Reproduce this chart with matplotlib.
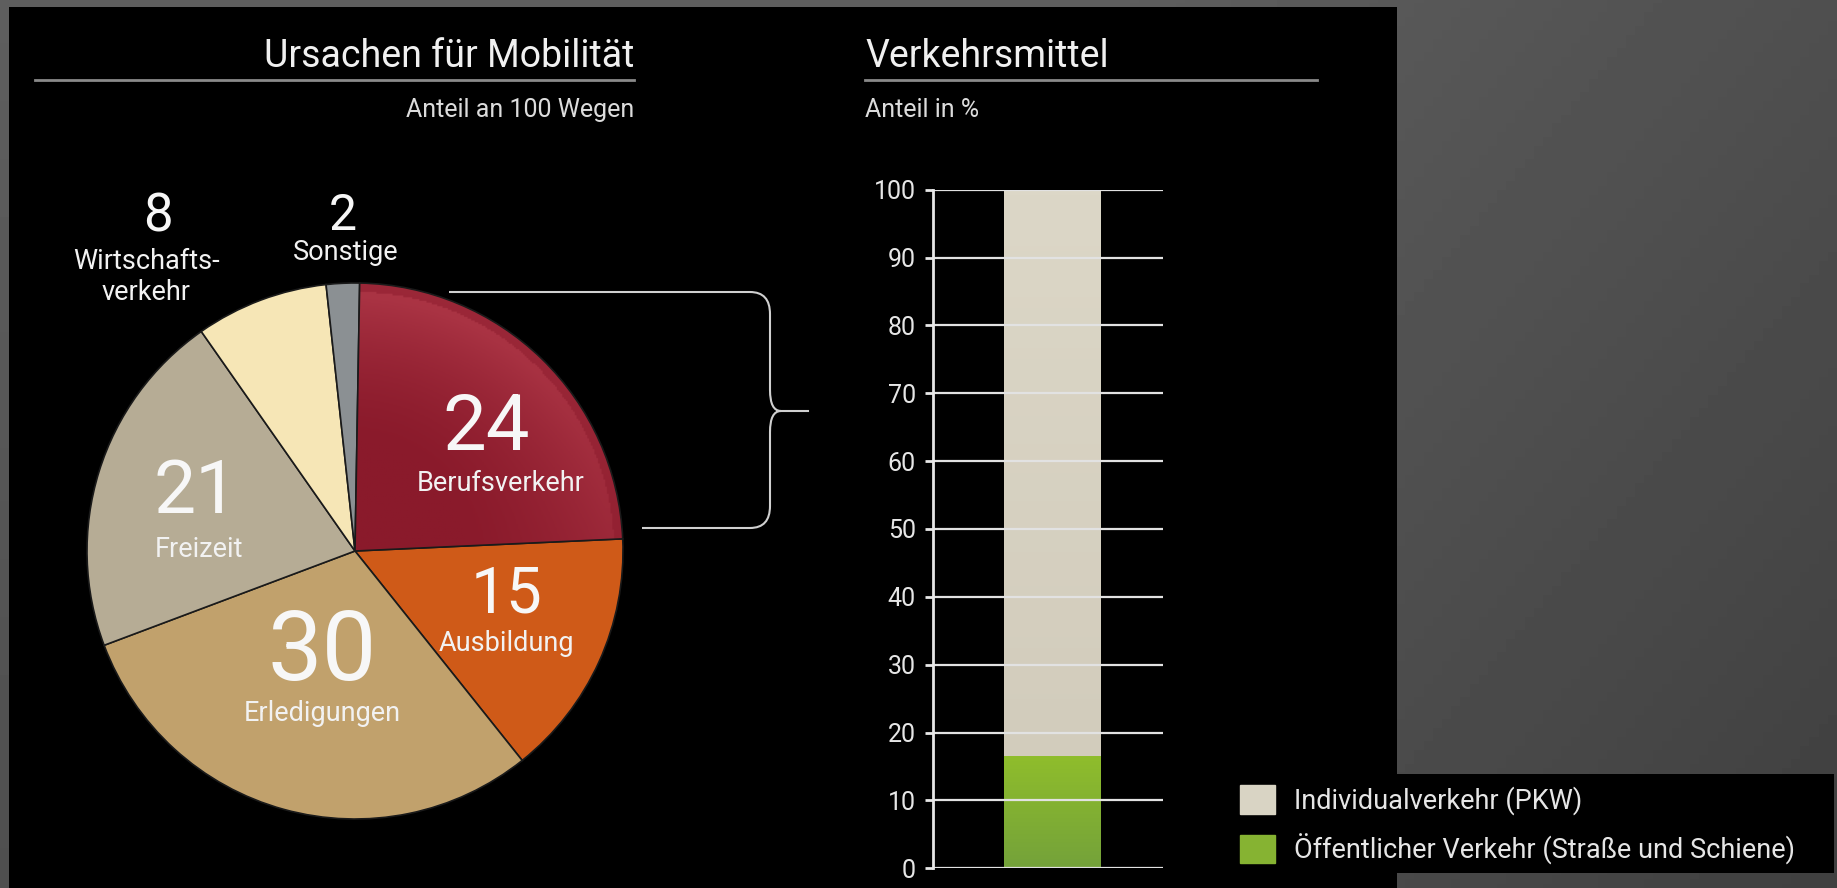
import numpy as np
import matplotlib
matplotlib.use("Agg")
import matplotlib.pyplot as plt
from matplotlib.path import Path
from matplotlib.patches import PathPatch, Rectangle, Patch
from matplotlib.colors import LinearSegmentedColormap

plt.rcParams['font.family'] = ['Roboto', 'DejaVu Sans']

# ---------------- data ----------------
pie_categories = ["Berufsverkehr", "Ausbildung", "Erledigungen", "Freizeit",
                  "Wirtschafts-\nverkehr", "Sonstige"]
pie_values = [24, 15, 30, 21, 8, 2]
pie_colors = ["#8e1b2c", "#cf5a18", "#c1a16c", "#b6ac95", "#f6e6b6", "#8b9093"]

bar_series = ["Öffentlicher Verkehr (Straße und Schiene)", "Individualverkehr (PKW)"]
bar_values = [16.5, 83.5]
bar_colors = ["#86b332", "#d9d4c4"]
y_ticks = [0, 10, 20, 30, 40, 50, 60, 70, 80, 90, 100]

W, H = 1837, 888
fig = plt.figure(figsize=(W / 100, H / 100), dpi=100)

# ---------------- background ----------------
bg = fig.add_axes([0, 0, 1, 1], zorder=0)
bg.set_xlim(0, W); bg.set_ylim(H, 0); bg.axis('off')
yy, xx = np.mgrid[0:1:200j, 0:1:200j]
grad = 0.46 - 0.15 * np.maximum(xx, 0.6) - 0.06 * yy
bg.imshow(grad, extent=[0, W, H, 0], cmap='gray', vmin=0, vmax=1, aspect='auto')
bg.add_patch(Rectangle((9, 7), 1397 - 9, H - 7, color='black', lw=0))
bg.add_patch(Rectangle((1228, 774), 1834 - 1228, 873 - 774, color='black', lw=0))

# ---------------- pie ----------------
cx, cy, R = 355, 551, 268
lim = 1.05
half = R * lim
pax = fig.add_axes([(cx - half) / W, 1 - (cy + half) / H, 2 * half / W, 2 * half / H], zorder=1)
pax.set_facecolor('none')
wedges, _ = pax.pie(pie_values, colors=pie_colors, startangle=89, counterclock=False,
                    radius=1, wedgeprops=dict(edgecolor='#1a1a1a', linewidth=1.2))
pax.set_xlim(-lim, lim); pax.set_ylim(-lim, lim); pax.set_aspect('equal'); pax.axis('off')
# glossy shading on the Berufsverkehr wedge
gy, gx = np.mgrid[-1:1:300j, -1:1:300j]
rr = np.sqrt(gx ** 2 + gy ** 2)
shade = np.clip((rr - 0.4) / 0.55, 0, 1) ** 1.3 * np.clip(0.35 + 0.6 * gy + 0.15 * gx, 0, 1) * 0.85
shade[rr > 0.97] *= 0.5
red_cm = LinearSegmentedColormap.from_list('r', ["#8a1a2b", "#b23a4a"])
im = pax.imshow(shade, extent=[-1, 1, -1, 1], origin='lower', cmap=red_cm, vmin=0, vmax=1,
                zorder=1.2)
im.set_clip_path(wedges[0])
wedges[0].set_zorder(1.3); wedges[0].set_facecolor('none')

# ---------------- bar ----------------
bax = fig.add_axes([932.6 / W, 0.0223, (1163.4 - 932.6) / W, 0.764], zorder=1)
bax.set_facecolor('none')
bottom = 0
bars = []
for v, c, lab in zip(bar_values, bar_colors, bar_series):
    b = bax.bar(0.518, v, width=0.416, bottom=bottom, color=c, label=lab, zorder=1)
    bars.append(b)
    bottom += v
g_green = LinearSegmentedColormap.from_list('g', ["#74a23a", "#8fbd2c"])
g_beige = LinearSegmentedColormap.from_list('b', ["#d2ccbc", "#dcd7c7"])
for b, cm in zip(bars, [g_green, g_beige]):
    p = b.patches[0]
    x0, y0 = p.get_x(), p.get_y()
    gim = bax.imshow(np.linspace(0, 1, 100).reshape(-1, 1),
                     extent=[x0, x0 + p.get_width(), y0, y0 + p.get_height()],
                     origin='lower', cmap=cm, aspect='auto', zorder=1.5)
    gim.set_clip_path(p)
bax.set_xlim(0, 1); bax.set_ylim(0, 100)
bax.set_yticks(y_ticks)
bax.set_xticks([])
for t in y_ticks:
    bax.axhline(t, color='#e2e2e2', lw=1.6, zorder=2)
for s in ['top', 'right', 'bottom']:
    bax.spines[s].set_visible(False)
bax.spines['left'].set_color('#e8e8e8'); bax.spines['left'].set_linewidth(2)
bax.spines['left'].set_bounds(0, 100)
bax.tick_params(axis='y', colors='#e8e8e8', labelcolor='#e6e6e6', labelsize=18, length=6, width=2, pad=6)
bax.set_aspect('auto')

leg = bax.legend(handles=[Patch(color=bar_colors[1]), Patch(color=bar_colors[0])],
                 labels=[bar_series[1], bar_series[0]],
                 loc='upper left', bbox_to_anchor=(1240 / W, 1 - 785 / H),
                 bbox_transform=fig.transFigure, frameon=False, fontsize=19.5,
                 handlelength=1.3, handleheight=1.25, handletextpad=0.7, labelspacing=0.68,
                 borderpad=0, borderaxespad=0)
for t in leg.get_texts():
    t.set_color('#e6e6e6')

# ---------------- overlay text ----------------
ov = fig.add_axes([0, 0, 1, 1], zorder=3)
ov.set_xlim(0, W); ov.set_ylim(H, 0); ov.axis('off'); ov.patch.set_alpha(0)

tc = '#f0f0f0'
ov.text(634, 67, "Ursachen für Mobilität", ha='right', va='baseline', fontsize=27, color=tc)
ov.plot([35, 634], [80, 80], color='#8a8a8a', lw=2)
ov.text(634, 117, "Anteil an 100 Wegen", ha='right', va='baseline', fontsize=18, color='#dcdcdc')

ov.text(865, 67, "Verkehrsmittel", ha='left', va='baseline', fontsize=27, color=tc)
ov.plot([865, 1317], [80, 80], color='#8a8a8a', lw=2)
ov.text(865, 117, "Anteil in %", ha='left', va='baseline', fontsize=18, color='#dcdcdc')

big = [(486, 428, 56), (506, 594, 46), (322, 654, 70), (196, 492, 54), (158, 217, 38), (343, 216, 36)]
small = [(501, 483), (506, 643), (322, 713), (199, 549), (146, 277), (346, 252)]
for (x, y, fs), (sx, sy), v, cat in zip(big, small, pie_values, pie_categories):
    ov.text(x, y, str(v), ha='center', va='center', fontsize=fs, color='#f7f7f7')
    ov.text(sx, sy, cat, ha='center', va='center', fontsize=19.5,
            color='#f2f2f2', linespacing=1.2)

# curly bracket
verts = [(449, 292), (750, 292),
         (770, 292), (770, 314),
         (770, 390),
         (770, 411), (781, 411),
         (770, 411), (770, 432),
         (770, 506),
         (770, 528), (750, 528),
         (642, 528)]
codes = [Path.MOVETO, Path.LINETO,
         Path.CURVE3, Path.CURVE3,
         Path.LINETO,
         Path.CURVE3, Path.CURVE3,
         Path.CURVE3, Path.CURVE3,
         Path.LINETO,
         Path.CURVE3, Path.CURVE3,
         Path.LINETO]
ov.add_patch(PathPatch(Path(verts, codes), facecolor='none', edgecolor='#d0d0d0', lw=1.5))
ov.plot([781, 808], [411, 411], color='#d0d0d0', lw=1.5)

fig.savefig("out.png", dpi=100, facecolor=fig.get_facecolor())
